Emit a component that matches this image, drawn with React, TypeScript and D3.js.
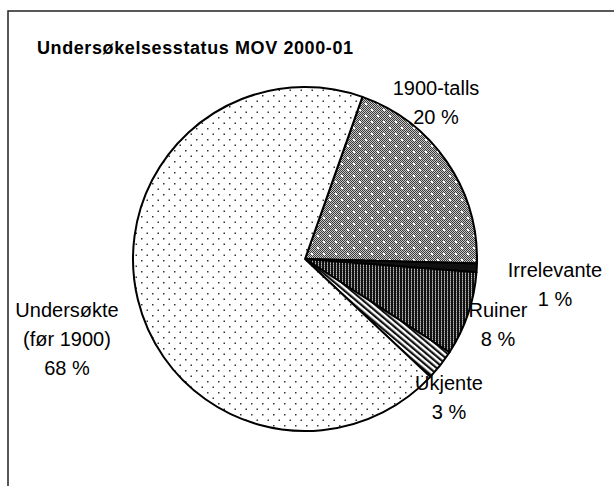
import React from "react";
import * as d3 from "d3";

const categories = ["1900-talls", "Irrelevante", "Ruiner", "Ukjente", "Undersøkte\n(før 1900)"];
const values = [20.0, 0.8, 7.9, 2.9, 68.4];
const title = "Undersøkelsesstatus MOV 2000-01";

const W = 614;
const H = 486;
const cx = 305;
const cy = 259;
const R = 172;
const startDeg = 19.5;

const fills = ["url(#pGray)", "#111", "url(#pVert)", "url(#pDiag)", "url(#pDots)"];
const labelAnchors: [number, number][] = [
  [436, 95],
  [555, 277],
  [498, 317],
  [449, 390],
  [67, 317],
];

export default function App() {
  const total = d3.sum(values);
  const pie = d3
    .pie<number>()
    .sort(null)
    .value((d) => d)
    .startAngle((startDeg * Math.PI) / 180)
    .endAngle((startDeg * Math.PI) / 180 + 2 * Math.PI);
  const arcs = pie(values);
  const arc = d3.arc<d3.PieArcDatum<number>>().innerRadius(0).outerRadius(R);

  return (
    <svg
      width={W}
      height={H}
      style={{ position: "absolute", left: 0, top: 0, background: "#fff" }}
      fontFamily="'Liberation Sans', Arial, sans-serif"
    >
      <defs>
        <pattern id="pDots" width="11" height="11" patternUnits="userSpaceOnUse">
          <rect width="11" height="11" fill="#fff" />
          <rect x="1" y="1" width="1.5" height="1.5" fill="#333" />
          <rect x="6.5" y="6.5" width="1.5" height="1.5" fill="#333" />
        </pattern>
        <pattern id="pChk" width="2" height="2" patternUnits="userSpaceOnUse">
          <rect width="2" height="2" fill="#c8c8c8" />
          <rect x="0" y="0" width="1" height="1" fill="#3a3a3a" />
          <rect x="1" y="1" width="1" height="1" fill="#3a3a3a" />
        </pattern>
        <pattern id="pGray" width="12" height="12" patternUnits="userSpaceOnUse">
          <rect width="12" height="12" fill="url(#pChk)" />
          <rect x="0" y="0" width="2" height="2" fill="#fff" />
          <rect x="6" y="6" width="2" height="2" fill="#fff" />
        </pattern>
        <pattern id="pVert" width="3" height="2" patternUnits="userSpaceOnUse">
          <rect width="3" height="2" fill="#111" />
          <rect x="1" y="0" width="1" height="1" fill="#bbb" />
          <rect x="1" y="1" width="1" height="1" fill="#777" />
        </pattern>
        <pattern
          id="pDiag"
          width="4.5"
          height="10"
          patternUnits="userSpaceOnUse"
          patternTransform="rotate(-50)"
        >
          <rect width="4.5" height="10" fill="#fff" />
          <rect x="0" y="0" width="2.2" height="10" fill="#111" />
        </pattern>
      </defs>

      <rect x={8} y={11} width={W + 50} height={H + 50} fill="#fff" stroke="#222" strokeWidth={1.5} />

      <text x={37} y={54} fontSize={18} fontWeight="bold" textLength={316} lengthAdjust="spacing" fill="#000">
        {title}
      </text>

      <g transform={`translate(${cx},${cy})`}>
        {arcs.map((a, i) => (
          <path key={i} d={arc(a) || ""} fill={fills[i]} stroke="#000" strokeWidth={2} strokeLinejoin="round" />
        ))}
      </g>

      {arcs.map((a, i) => {
        const lines = categories[i].split("\n");
        lines.push(`${Math.round((a.value / total) * 100)} %`);
        const [lx, ly] = labelAnchors[i];
        return (
          <text key={i} x={lx} y={ly} fontSize={20} textAnchor="middle" fill="#000">
            {lines.map((t, j) => (
              <tspan key={j} x={lx} y={ly + j * 29}>
                {t}
              </tspan>
            ))}
          </text>
        );
      })}
    </svg>
  );
}
